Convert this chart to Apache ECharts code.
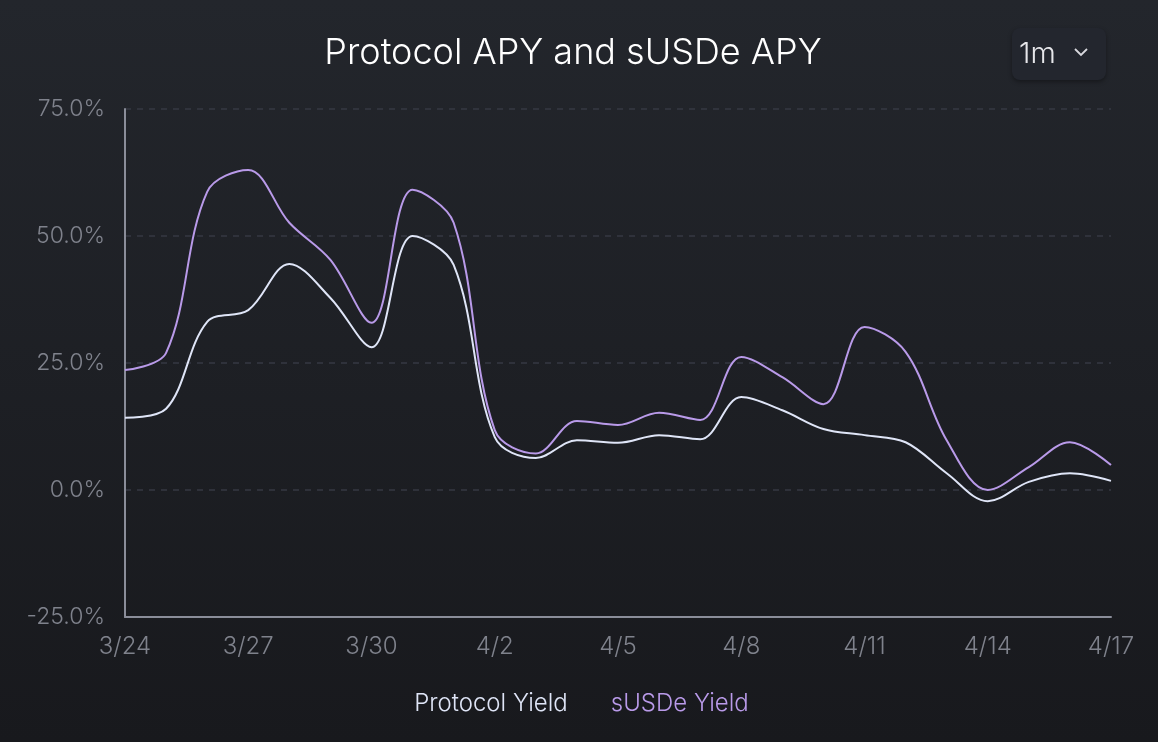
<!DOCTYPE html>
<html>
<head>
<meta charset="utf-8">
<script src="https://cdn.jsdelivr.net/npm/echarts@6/dist/echarts.min.js"></script>
<style>
html,body{margin:0;padding:0;width:1158px;height:742px;overflow:hidden;background:#1c1e23;}
#c{width:1158px;height:742px;}
</style>
</head>
<body>
<div id="c"></div>
<script>
const dates = ['3/24','3/25','3/26','3/27','3/28','3/29','3/30','3/31','4/1','4/2','4/3','4/4','4/5','4/6','4/7','4/8','4/9','4/10','4/11','4/12','4/13','4/14','4/15','4/16','4/17'];
const protocolYield = [14.2,16.0,33.1,35.4,44.5,37.8,28.1,50.0,44.3,10.4,6.3,9.8,9.3,10.8,10.0,18.3,15.7,12.0,10.8,9.4,3.3,-2.2,1.6,3.3,1.8];
const susdeYield = [23.6,27.0,58.7,63.0,52.6,45.3,32.9,59.1,52.6,11.8,7.2,13.6,12.8,15.2,13.8,26.2,22.2,16.9,32.1,27.2,9.8,0.0,4.5,9.4,4.9];
const yTicks = [-25, 0, 25, 50, 75];

const chart = echarts.init(document.getElementById('c'));
const FONT = 'Inter, "Noto Sans", sans-serif';
chart.setOption({
  backgroundColor: {
    type: 'linear', x: 0, y: 0, x2: 0, y2: 1,
    colorStops: [{offset: 0, color: '#23262c'}, {offset: 1, color: '#18191d'}]
  },
  title: {
    text: 'Protocol APY and sUSDe APY',
    left: 568, top: 30, textAlign: 'center',
    textStyle: {color: '#ffffff', fontSize: 36, fontWeight: 300, fontFamily: FONT}
  },
  legend: {
    bottom: 21, left: 'center', itemGap: 38,
    icon: 'none', itemWidth: 0, itemHeight: 0,
    textStyle: {fontSize: 24, fontWeight: 300, fontFamily: FONT},
    data: [
      {name: 'Protocol Yield', textStyle: {color: '#dfe5f7'}},
      {name: 'sUSDe Yield', textStyle: {color: '#b99ae9'}}
    ]
  },
  grid: {left: 125, right: 47, top: 109, bottom: 125, containLabel: false},
  xAxis: {
    type: 'category', data: dates, boundaryGap: false,
    axisLine: {onZero: false, lineStyle: {color: '#8a8d99', width: 2}},
    axisTick: {show: false},
    axisLabel: {
      color: '#7f828c', fontSize: 24, fontWeight: 300, fontFamily: FONT, margin: 18,
      interval: (i) => i % 3 === 0
    },
    splitLine: {show: false}
  },
  yAxis: {
    type: 'value', min: yTicks[0], max: yTicks[yTicks.length - 1], interval: 25,
    axisLine: {show: true, lineStyle: {color: '#8a8d99', width: 2}},
    axisTick: {show: false},
    axisLabel: {
      color: '#7f828c', fontSize: 23, fontWeight: 300, fontFamily: FONT, margin: 20,
      formatter: (v) => v.toFixed(1) + '%'
    },
    splitLine: {lineStyle: {color: '#363943', type: [6, 6], width: 1.5}}
  },
  series: [
    {
      name: 'Protocol Yield', type: 'line', data: protocolYield,
      smooth: 0.35, showSymbol: false, symbol: 'none',
      lineStyle: {color: '#dfe5f7', width: 2},
      itemStyle: {color: '#dfe5f7'}
    },
    {
      name: 'sUSDe Yield', type: 'line', data: susdeYield,
      smooth: 0.35, showSymbol: false, symbol: 'none',
      lineStyle: {color: '#b99ae9', width: 2},
      itemStyle: {color: '#b99ae9'}
    }
  ],
  graphic: [
    {
      type: 'rect', shape: {x: 1012, y: 28, width: 94, height: 52, r: 8},
      style: {fill: '#23262e', shadowColor: 'rgba(0,0,0,0.35)', shadowBlur: 4, shadowOffsetY: 2}
    },
    {
      type: 'text', style: {x: 1019, y: 54, text: '1m', fill: '#e6e6ea', font: '300 29px ' + FONT, textVerticalAlign: 'middle'}
    },
    {
      type: 'polyline', shape: {points: [[1075, 49], [1081, 55], [1087, 49]]},
      style: {stroke: '#d8d8de', lineWidth: 1.8, fill: null}
    }
  ]
});
</script>
</body>
</html>
